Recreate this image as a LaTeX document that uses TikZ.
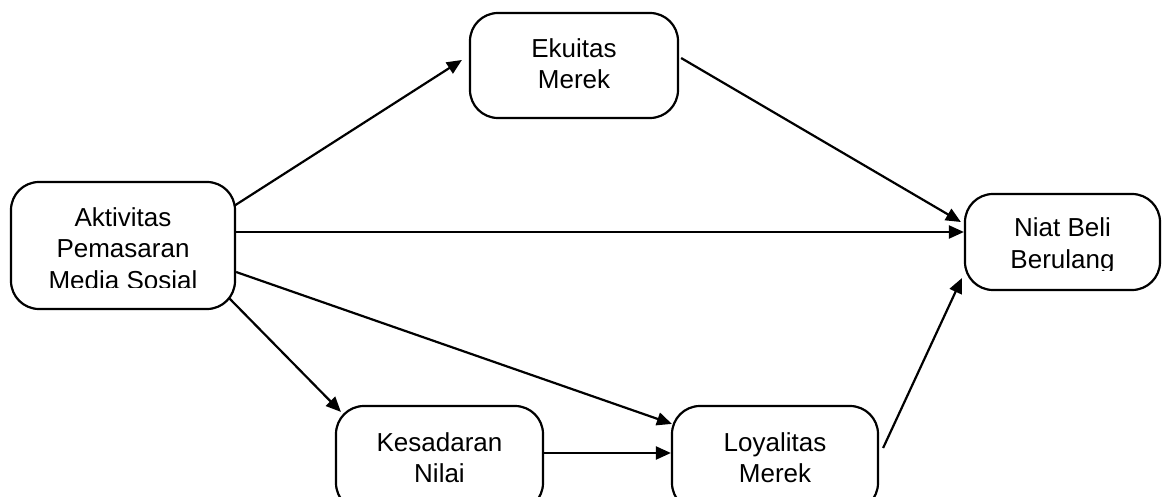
\documentclass[tikz,border=0pt]{standalone}
\usepackage{fontspec}
\setmainfont{Liberation Sans}
\usetikzlibrary{arrows.meta,calc}
\begin{document}
\begin{tikzpicture}[x=1pt,y=-1pt,
  box/.style={draw, line width=2.2pt, rounded corners=28pt, inner sep=0pt},
  lbl/.style={align=center, inner sep=0pt, font=\fontsize{26pt}{31.5pt}\selectfont},
  link/.style={line width=2.2pt, -{Triangle[length=15pt,width=13pt]}}]
\useasboundingbox (0,0) rectangle (1168,497);
% boxes
\node[box, minimum width=224pt, minimum height=127pt] (akt) at (123,245.5) {};
\node[box, minimum width=208pt, minimum height=105pt] (ekt) at (574,65.5) {};
\node[box, minimum width=195pt, minimum height=96pt] (niat) at (1062.5,242) {};
\node[box, minimum width=207pt, minimum height=105pt] (kes) at (439.5,458.5) {};
\node[box, minimum width=206pt, minimum height=105pt] (loy) at (775,458.5) {};
% labels
\begin{scope}
  \clip (11,182) rectangle (235,287.5);
  \node[lbl] (akt-t) at (123,248.5) {Aktivitas\\Pemasaran\\Media Sosial};
\end{scope}
\node[lbl] (ekt-t) at (574,63.5) {Ekuitas\\Merek};
\begin{scope}
  \clip (965,194) rectangle (1160,271);
  \node[lbl] (niat-t) at (1062.5,246) {Niat Beli\\Berulang};
\end{scope}
\node[lbl] (kes-t) at (439.5,457.5) {Kesadaran\\Nilai};
\node[lbl] (loy-t) at (775,457.5) {Loyalitas\\Merek};
% connectors
\draw[link] ([shift={(-2,25)}]akt.north east) -- ([shift={(-7,-5.5)}]ekt.west);
\draw[link] ([shift={(0,-13.5)}]akt.east) -- ([shift={(0,-10)}]niat.west);
\draw[link] ([shift={(2,-7.5)}]ekt.east) -- ([shift={(-3,-20)}]niat.west);
\draw[link] ([shift={(0,26.5)}]akt.east) -- ([shift={(1,19)}]loy.north west);
\draw[link] ([shift={(-7,-12)}]akt.south east) -- ([shift={(6,7)}]kes.north west);
\draw[link] ([shift={(0,-5.5)}]kes.east) -- ([shift={(0,-5.5)}]loy.west);
\draw[link] ([shift={(4,-10.5)}]loy.east) -- ([shift={(-2,-13)}]niat.south west);
\end{tikzpicture}
\end{document}
